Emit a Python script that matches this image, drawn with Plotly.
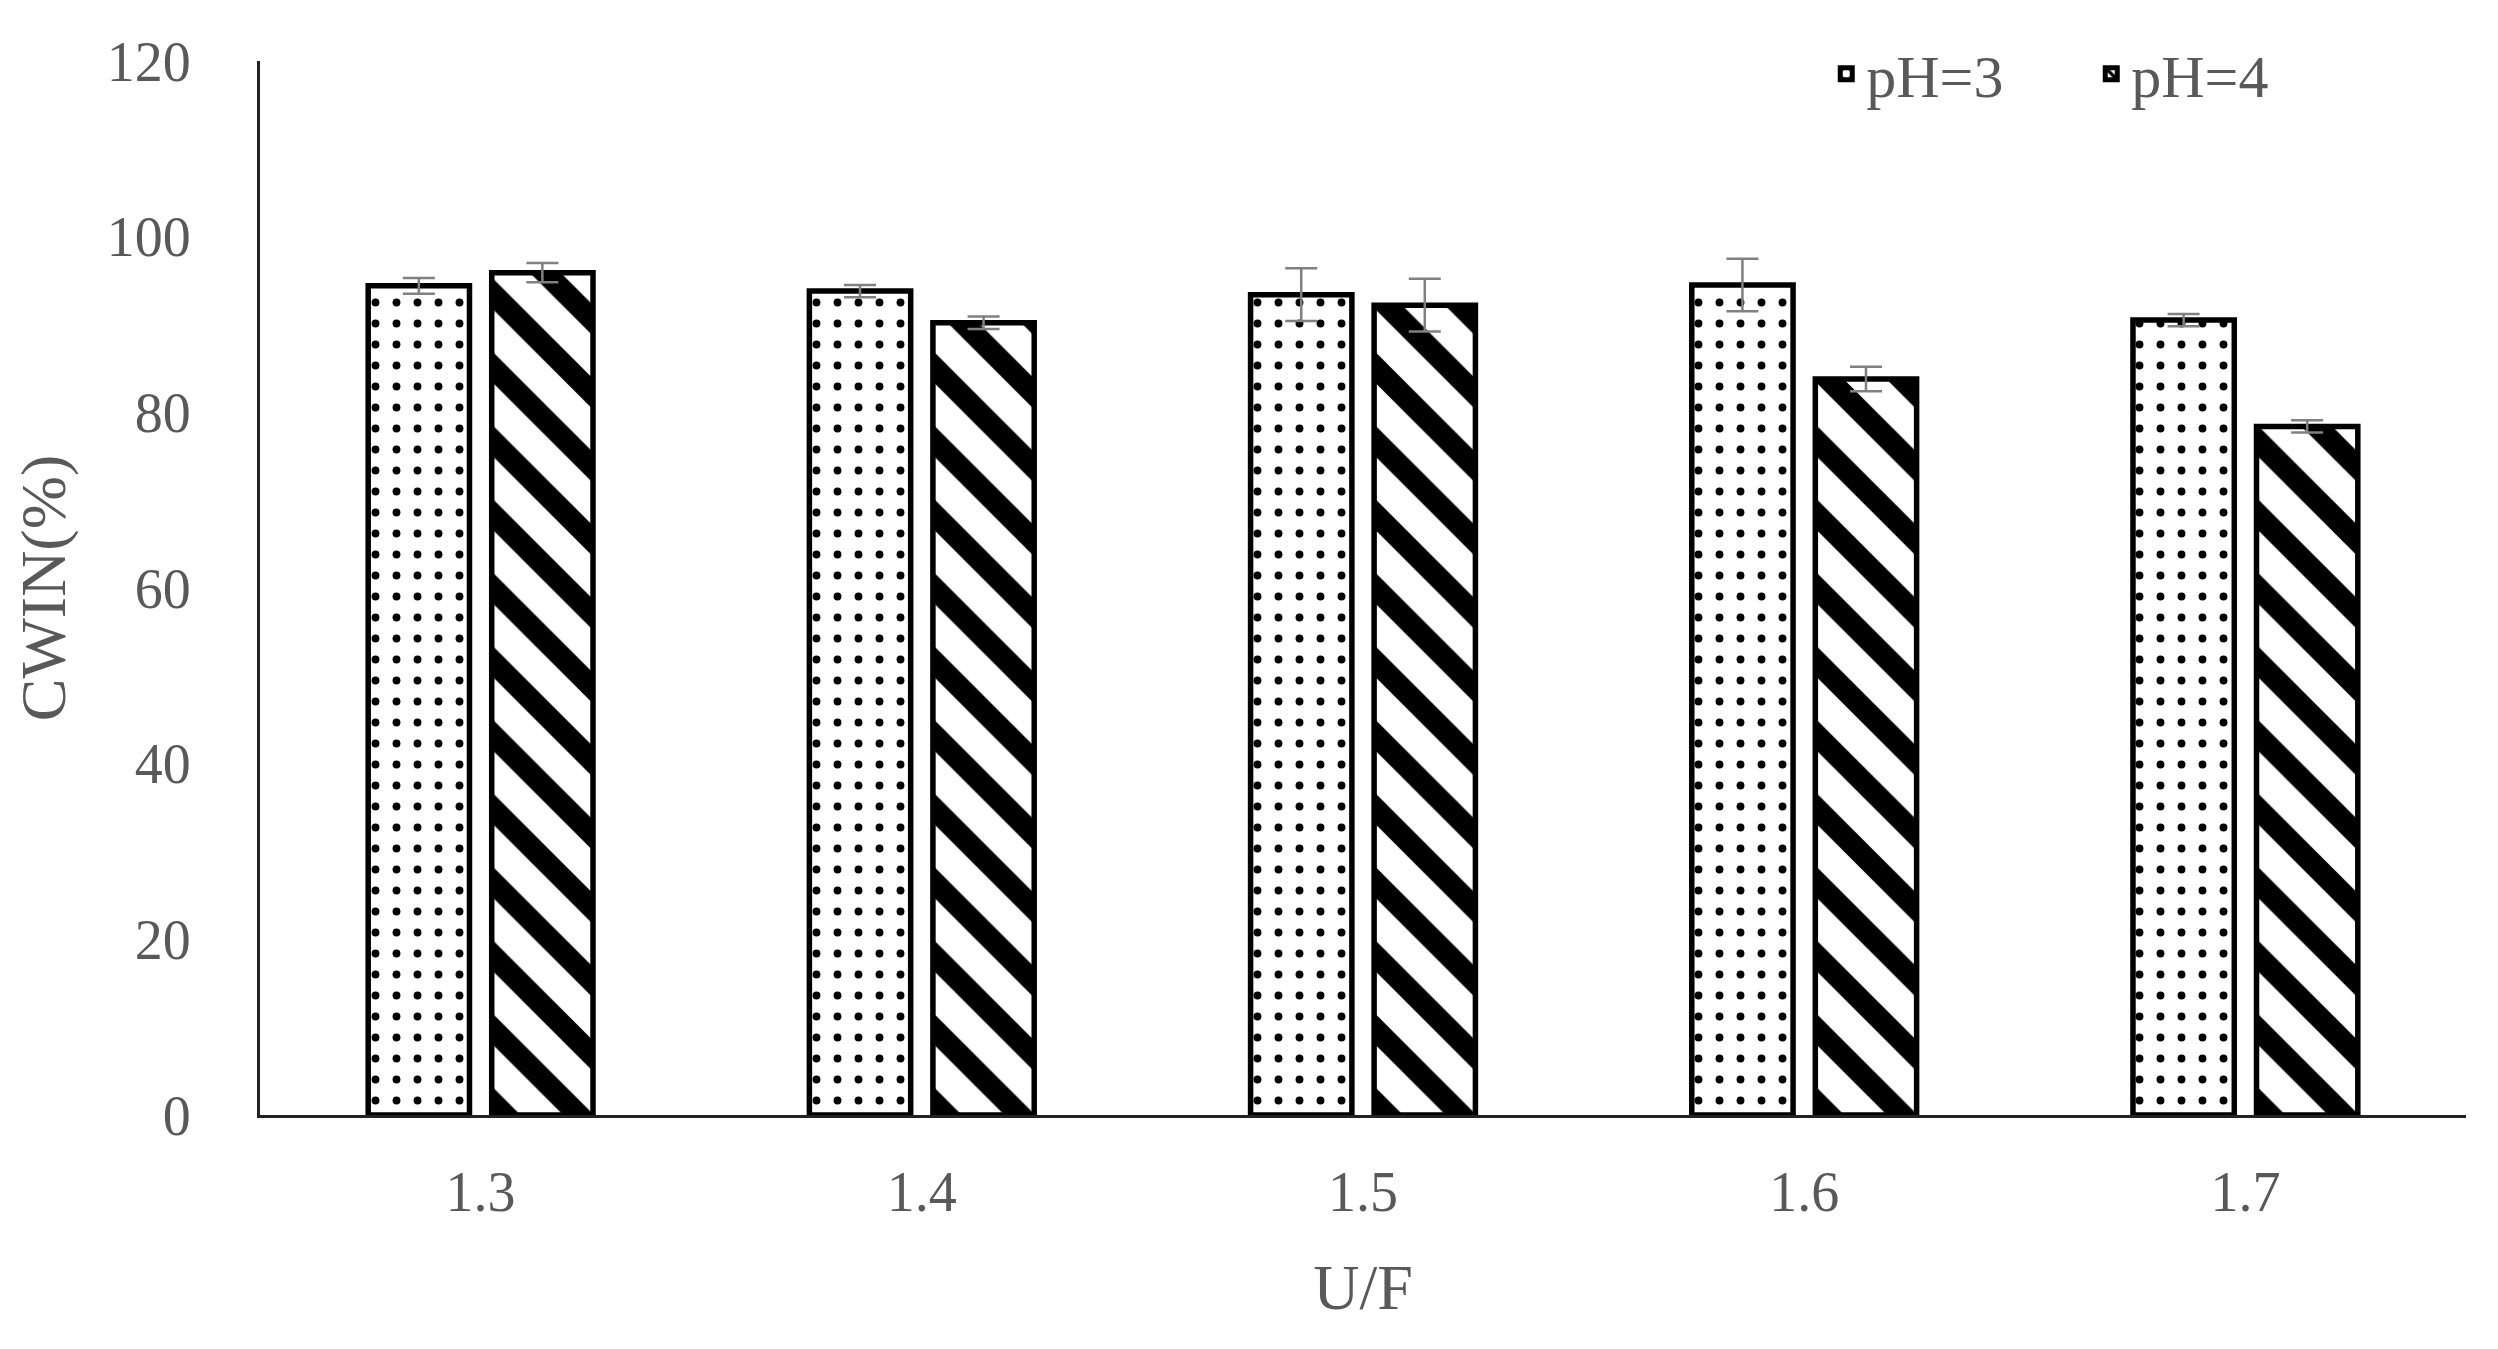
import plotly.graph_objects as go

# data
uf = ["1.3", "1.4", "1.5", "1.6", "1.7"]
ph3_vals = [94.4, 93.8, 93.4, 94.5, 90.5]
ph3_err = [0.9, 0.7, 3.0, 3.0, 0.7]
ph4_vals = [95.9, 90.2, 92.2, 83.8, 78.4]
ph4_err = [1.1, 0.7, 3.0, 1.4, 0.7]
y_ticks = [0, 20, 40, 60, 80, 100, 120]

FONT = "Liberation Serif, Times New Roman, serif"
GREY = "#595959"

fig = go.Figure()
fig.add_trace(go.Bar(
    x=uf, y=ph3_vals, name="pH=3",
    marker=dict(color="white", line=dict(color="black", width=5.5),
                pattern=dict(shape=".", size=21, solidity=0.11, fgopacity=1,
                             fgcolor="black", bgcolor="white", fillmode="overlay")),
    error_y=dict(type="data", array=ph3_err, color="#808080", thickness=2.5, width=16),
))
fig.add_trace(go.Bar(
    x=uf, y=ph4_vals, name="pH=4",
    marker=dict(color="white", line=dict(color="black", width=5.5),
                pattern=dict(shape="\\", size=52, solidity=0.42, fgopacity=1,
                             fgcolor="black", bgcolor="white", fillmode="overlay")),
    error_y=dict(type="data", array=ph4_err, color="#808080", thickness=2.5, width=16),
))

fig.update_layout(
    width=2498, height=1349,
    paper_bgcolor="white", plot_bgcolor="white",
    font=dict(family=FONT, color=GREY, size=56),
    margin=dict(l=252, r=40, t=53, b=242, autoexpand=False),
    barmode="group", bargap=0.44, bargroupgap=0.18,
    xaxis=dict(
        showline=True, linecolor="#222222", linewidth=3,
        ticks="", ticklabelstandoff=26,
        tickfont=dict(size=56, color=GREY),
        title=dict(text="U/F", font=dict(size=64, color=GREY), standoff=42),
    ),
    yaxis=dict(
        range=[0, 120], tickvals=y_ticks,
        showline=True, linecolor="#222222", linewidth=3,
        showgrid=False, zeroline=False,
        ticks="", ticklabelstandoff=55,
        tickfont=dict(size=56, color=GREY),
        title=dict(text="CWIN(%)", font=dict(size=64, color=GREY), standoff=25),
    ),
    legend=dict(
        orientation="h", x=0.71, y=0.988, xanchor="left", yanchor="middle",
        font=dict(size=60, color=GREY), bgcolor="rgba(0,0,0,0)",
        traceorder="normal", entrywidth=220,
    ),
)

fig.write_html("out.html")
